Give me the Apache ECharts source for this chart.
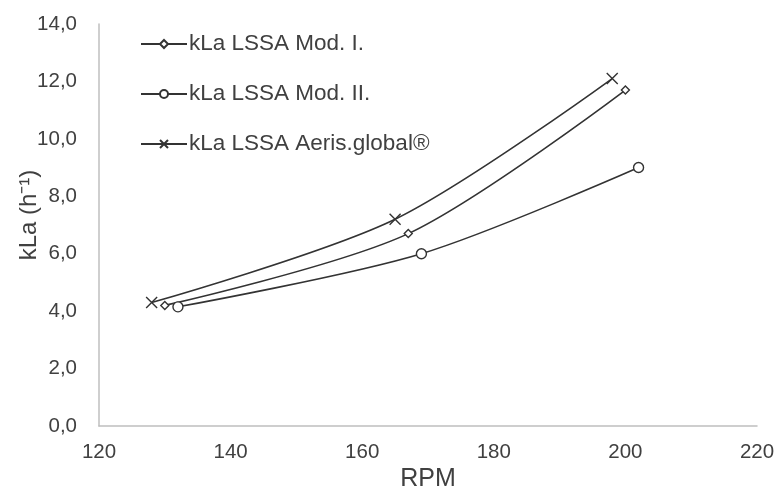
<!DOCTYPE html>
<html>
<head>
<meta charset="utf-8">
<script src="https://cdn.jsdelivr.net/npm/echarts@6/dist/echarts.min.js"></script>
<style>html,body{margin:0;padding:0;background:#fff}#c{width:776px;height:497px}</style>
</head>
<body>
<div id="c"></div>
<script>
const seriesNames = ['kLa LSSA Mod. I.', 'kLa LSSA Mod. II.', 'kLa LSSA Aeris.global®'];
const modI = [[130, 4.2], [167, 6.7], [200, 11.7]];
const modII = [[132, 4.15], [169, 6.0], [202, 9.0]];
const aeris = [[128, 4.3], [165, 7.2], [198, 12.1]];
const xTicks = [120, 140, 160, 180, 200, 220];
const yTicks = [0, 2, 4, 6, 8, 10, 12, 14];

const xPath = 'path://M0,0L10,10M10,0L0,10';
const lineColor = '#333333';
const font = '"Liberation Sans", Arial, sans-serif';
const textColor = '#404040';

function mk(name, data, symbol, size) {
  return {
    name: name, type: 'line', data: data, smooth: 0.3,
    symbol: symbol, symbolSize: size, showSymbol: true,
    lineStyle: { color: lineColor, width: 1.6 },
    itemStyle: { color: '#ffffff', borderColor: lineColor, borderWidth: 1.4 },
    emphasis: { disabled: true }
  };
}

const chart = echarts.init(document.getElementById('c'));
chart.setOption({
  animation: false,
  backgroundColor: '#ffffff',
  grid: { left: 99, right: 19, top: 24, bottom: 71, containLabel: false, outerBoundsMode: 'none' },
  legend: {
    orient: 'vertical', left: 135, top: 27,
    itemWidth: 46, itemHeight: 10, itemGap: 26,
    data: seriesNames,
    textStyle: { fontFamily: font, fontSize: 22.5, lineHeight: 24, color: textColor, padding: [0, 0, 0, -3] }
  },
  xAxis: {
    type: 'value', min: xTicks[0], max: xTicks[xTicks.length - 1], interval: 20,
    name: 'RPM', nameLocation: 'middle', nameGap: 41, nameMoveOverlap: false,
    nameTextStyle: { fontFamily: font, fontSize: 25, color: textColor },
    axisLine: { show: true, lineStyle: { color: '#bfbfbf', width: 1.5 } },
    axisTick: { show: false },
    splitLine: { show: false },
    axisLabel: { fontFamily: font, fontSize: 20.5, color: textColor, margin: 16 }
  },
  yAxis: {
    type: 'value', min: yTicks[0], max: yTicks[yTicks.length - 1], interval: 2,
    name: 'kLa (h⁻¹)', nameLocation: 'middle', nameGap: 58, nameRotate: 90, nameMoveOverlap: false,
    nameTextStyle: { fontFamily: font, fontSize: 24, color: textColor, padding: [0, 0, 0, 20] },
    axisLine: { show: true, lineStyle: { color: '#bfbfbf', width: 1.5 } },
    axisTick: { show: false },
    splitLine: { show: false },
    axisLabel: { fontFamily: font, fontSize: 20.5, color: textColor, margin: 22,
      formatter: v => v.toFixed(1).replace('.', ',') }
  },
  series: [
    mk(seriesNames[0], modI, 'diamond', 8),
    mk(seriesNames[1], modII, 'circle', 10),
    mk(seriesNames[2], aeris, xPath, 11)
  ]
});
</script>
</body>
</html>
